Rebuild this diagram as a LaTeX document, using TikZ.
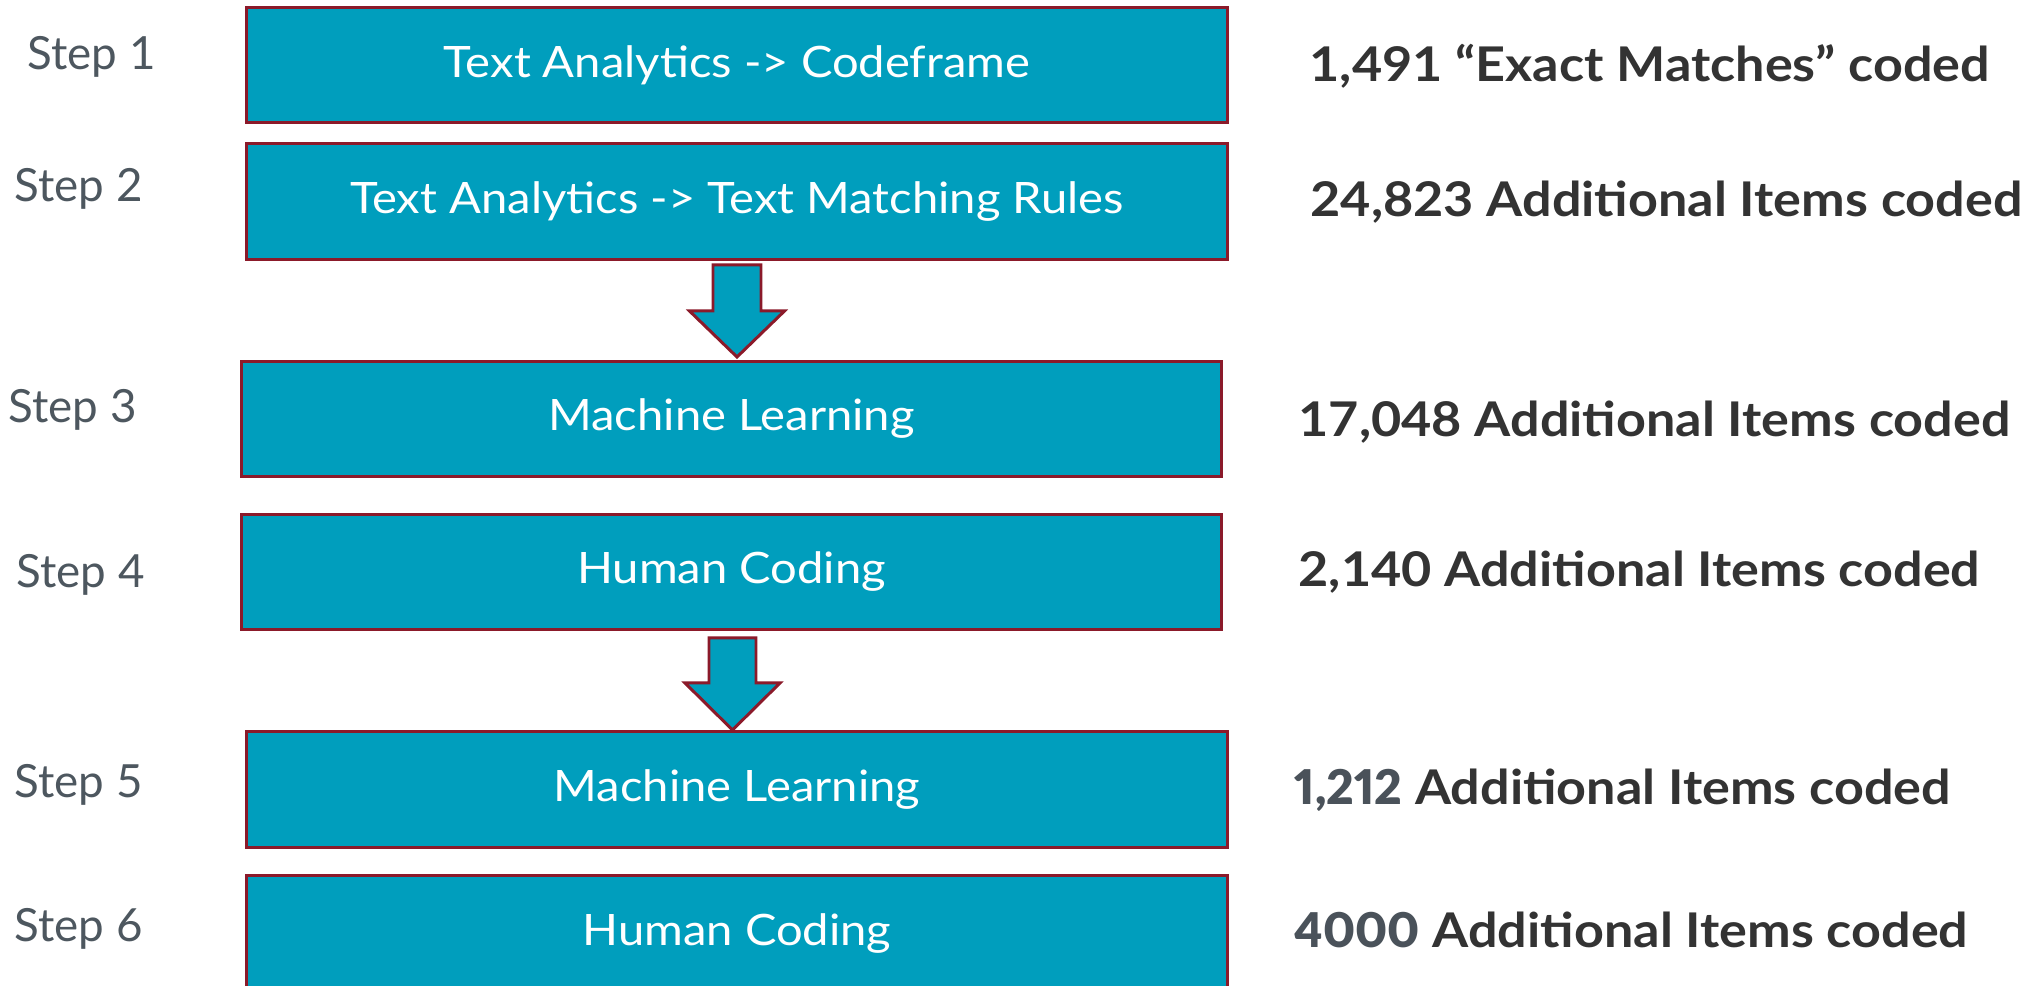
\documentclass[tikz,border=0pt]{standalone}
\usepackage{fontspec}
\setmainfont{Lato}
\newfontfamily\boxfont{Lato}[FakeStretch=1.09]
\newfontfamily\resfont{Lato}[FakeStretch=1.09]
\newfontfamily\numfont{Lato Bold}[FakeStretch=1.0,Numbers=Proportional]
\definecolor{boxfill}{HTML}{009EBD}
\definecolor{boxborder}{HTML}{8B1A2A}
\definecolor{stepgray}{HTML}{4D575F}
\definecolor{resdark}{HTML}{333333}
\definecolor{numgray}{HTML}{4A525A}
\begin{document}
\begin{tikzpicture}[x=0.01cm,y=-0.01cm,
  box/.style={draw=boxborder, fill=boxfill, line width=0.85pt, inner sep=0pt,
    minimum width=9.8cm, minimum height=1.15cm, text=white,
    font=\boxfont\fontsize{12.3}{14}\selectfont},
  steplbl/.style={anchor=base west, inner sep=0pt, text=stepgray,
    font=\fontsize{13}{15}\selectfont},
  result/.style={anchor=base west, inner sep=0pt, text=resdark,
    font=\resfont\fontsize{13.6}{16}\selectfont\bfseries},
  blockarrow/.style={draw=boxborder, fill=boxfill, line width=0.85pt, line join=miter}]
\clip (0,0) rectangle (2044,986);
\fill[white] (0,0) rectangle (2044,986);

% boxes
\node[box] (b1) at (737,65) {Text Analytics -> Codeframe};
\node[box] (b2) at (737,201.5) {Text Analytics -> Text Matching Rules};
\node[box, minimum width=9.79cm, minimum height=1.14cm] (b3) at (731.5,419) {Machine Learning};
\node[box, minimum width=9.79cm, minimum height=1.14cm] (b4) at (731.5,572) {Human Coding};
\node[box] (b5) at (737,789.5) {Machine Learning};
\node[box] (b6) at (737,933.5) {Human Coding};

% block arrows
\draw[blockarrow] (713,265) -- (761,265) -- (761,311) -- (784.5,311) -- (737,357)
  -- (689.5,311) -- (713,311) -- cycle;
\draw[blockarrow] (709,638) -- (756,638) -- (756,683) -- (780,683) -- (732.5,730)
  -- (685,683) -- (709,683) -- cycle;

% step labels
\node[steplbl] (s1) at (27,70) {Step 1};
\node[steplbl] (s2) at (14,202) {Step 2};
\node[steplbl] (s3) at (8,423) {Step 3};
\node[steplbl] (s4) at (16,588) {Step 4};
\node[steplbl] (s5) at (14,798) {Step 5};
\node[steplbl] (s6) at (14,942) {Step 6};

% results
\node[result] (r1) at (1309,82) {1,491 “Exact Matches” coded};
\node[result] (r2) at (1310,217) {24,823 Additional Items coded};
\node[result] (r3) at (1298,437) {17,048 Additional Items coded};
\node[result] (r4) at (1298,587) {2,140 Additional Items coded};
\node[result] (r5) at (1294,805) {{\numfont\color{numgray}1,212} Additional Items coded};
\node[result] (r6) at (1294,948) {{\numfont\color{numgray}4000} Additional Items coded};
\end{tikzpicture}
\end{document}
